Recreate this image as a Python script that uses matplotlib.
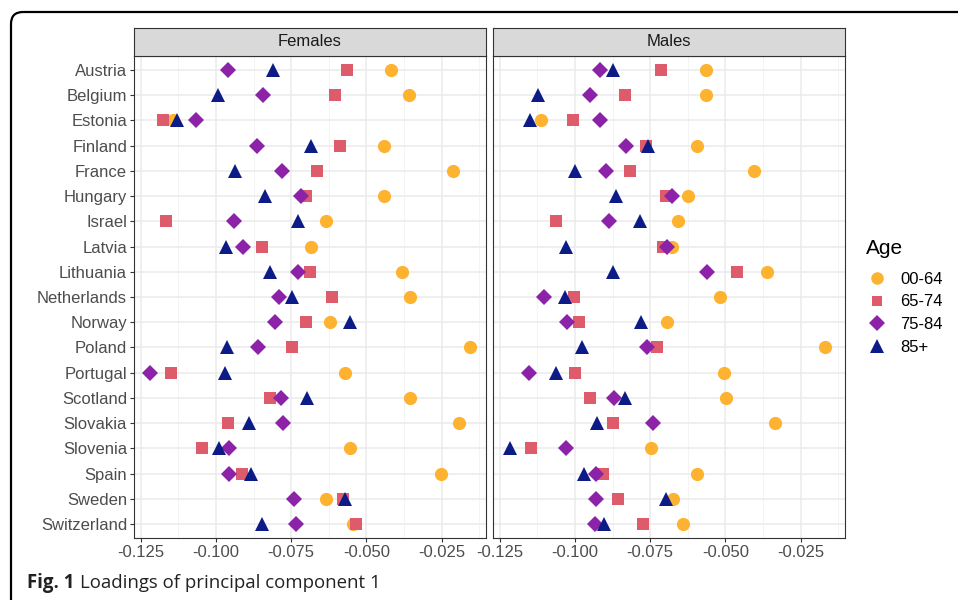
import matplotlib
matplotlib.use("Agg")
import matplotlib.pyplot as plt
from matplotlib.lines import Line2D
from matplotlib.patches import FancyBboxPatch
from matplotlib.transforms import IdentityTransform
import numpy as np

plt.rcParams['font.family'] = ['Liberation Sans', 'DejaVu Sans']

countries = ["Austria", "Belgium", "Estonia", "Finland", "France", "Hungary", "Israel",
             "Latvia", "Lithuania", "Netherlands", "Norway", "Poland", "Portugal",
             "Scotland", "Slovakia", "Slovenia", "Spain", "Sweden", "Switzerland"]
ages = ["00-64", "65-74", "75-84", "85+"]

# Females
f_0064 = [-0.0417, -0.0358, -0.1142, -0.0442, -0.0212, -0.0442, -0.0636, -0.0685, -0.0382, -0.0357,
          -0.0621, -0.0156, -0.0572, -0.0357, -0.0192, -0.0556, -0.0251, -0.0635, -0.0544]
f_6574 = [-0.0566, -0.0606, -0.1175, -0.0589, -0.0665, -0.0700, -0.1167, -0.0847, -0.0686, -0.0613,
          -0.0701, -0.0748, -0.1149, -0.0822, -0.0959, -0.1045, -0.0914, -0.0579, -0.0535]
f_7584 = [-0.0960, -0.0844, -0.1066, -0.0862, -0.0782, -0.0718, -0.0941, -0.0909, -0.0728, -0.0790,
          -0.0804, -0.0860, -0.1219, -0.0783, -0.0777, -0.0958, -0.0957, -0.0740, -0.0733]
f_85 = [-0.0811, -0.0993, -0.1128, -0.0684, -0.0937, -0.0837, -0.0728, -0.0966, -0.0821, -0.0748,
        -0.0553, -0.0963, -0.0971, -0.0698, -0.0889, -0.0990, -0.0882, -0.0570, -0.0848]

# Males
m_0064 = [-0.0564, -0.0564, -0.1111, -0.0596, -0.0405, -0.0623, -0.0658, -0.0679, -0.0361, -0.0517,
          -0.0694, -0.0169, -0.0505, -0.0497, -0.0337, -0.0748, -0.0595, -0.0674, -0.0642]
m_6574 = [-0.0715, -0.0834, -0.1006, -0.0765, -0.0816, -0.0698, -0.1062, -0.0708, -0.0462, -0.1004,
          -0.0988, -0.0729, -0.0999, -0.0951, -0.0872, -0.1145, -0.0907, -0.0858, -0.0773]
m_7584 = [-0.0918, -0.0951, -0.0917, -0.0830, -0.0896, -0.0679, -0.0888, -0.0694, -0.0562, -0.1101,
          -0.1027, -0.0760, -0.1154, -0.0869, -0.0742, -0.1030, -0.0931, -0.0931, -0.0934]
m_85 = [-0.0872, -0.1121, -0.1150, -0.0758, -0.0999, -0.0863, -0.0783, -0.1028, -0.0872, -0.1034,
        -0.0780, -0.0977, -0.1064, -0.0834, -0.0925, -0.1215, -0.0971, -0.0697, -0.0903]

colors = ["#FDB32F", "#DE5B6C", "#8C22A8", "#0D1B87"]
markers = ["o", "s", "D", "^"]
msizes = [9.5, 8.0, 8.5, 10.5]

W, H = 958, 600
fig = plt.figure(figsize=(W / 100, H / 100), dpi=100)

# rounded frame around the figure
frame = FancyBboxPatch((11, -30), 1100, H - 12 + 30, boxstyle="round,pad=0,rounding_size=12",
                       transform=IdentityTransform(), fill=False, edgecolor="black", linewidth=1.6)
fig.patches.append(frame)

ypos = np.arange(len(countries))[::-1]
panels = [("Females", [f_0064, f_6574, f_7584, f_85], 134),
          ("Males", [m_0064, m_6574, m_7584, m_85], 493)]

for title, series, left in panels:
    ax = fig.add_axes([left / W, 62 / H, 352 / W, 482 / H])
    for k, vals in enumerate(series):
        ax.plot(vals, ypos, linestyle="none", marker=markers[k], ms=msizes[k],
                color=colors[k], mec=colors[k], mew=0, zorder=3 + k)
    ax.set_xlim(-0.1272, -0.0103)
    ax.set_ylim(-0.55, len(countries) - 0.45)
    ax.set_xticks([-0.125, -0.1, -0.075, -0.05, -0.025])
    ax.set_xticklabels(["-0.125", "-0.100", "-0.075", "-0.050", "-0.025"])
    ax.set_xticks(np.arange(-0.1125, -0.0, 0.025), minor=True)
    ax.set_yticks(ypos)
    ax.grid(which="major", color="#EBEBEB", linewidth=1.1, zorder=0)
    ax.grid(which="minor", axis="x", color="#F2F2F2", linewidth=0.6, zorder=0)
    ax.set_axisbelow(True)
    ax.tick_params(which="major", length=3, width=0.8, color="#333333", labelsize=12,
                   labelcolor="#4D4D4D", pad=2)
    ax.tick_params(which="minor", length=0)
    if left == 134:
        ax.set_yticklabels(countries)
    else:
        ax.set_yticklabels([])
        ax.tick_params(axis="y", length=0)
    for s in ax.spines.values():
        s.set_color("#333333")
        s.set_linewidth(0.8)

    strip = fig.add_axes([left / W, (H - 56) / H, 352 / W, 28 / H])
    strip.set_facecolor("#D9D9D9")
    strip.set_xticks([])
    strip.set_yticks([])
    for s in strip.spines.values():
        s.set_color("#333333")
        s.set_linewidth(0.8)
    strip.text(0.5, 0.5, title, ha="center", va="center", fontsize=12, color="#1A1A1A",
               transform=strip.transAxes)

# legend
fig.text(866 / W, 1 - 248 / H, "Age", fontsize=15, va="center", ha="left", color="black")
handles = [Line2D([], [], linestyle="none", marker=markers[k], ms=msizes[k] * 0.95,
                  color=colors[k], mew=0) for k in range(4)]
leg = fig.legend(handles, ages, loc="upper left",
                 bbox_to_anchor=(852 / W, 1 - 257 / H), frameon=False, fontsize=12,
                 handlelength=1.2, handletextpad=0.8, labelspacing=0.45)

# caption
renderer = fig.canvas.get_renderer()
t1 = fig.text(27 / W, 1 - 583 / H, "Fig. 1", fontsize=13.4, fontweight="bold", va="center",
              ha="left", family="Open Sans", color="#222222")
bb = t1.get_window_extent(renderer=renderer)
fig.text((bb.x1 + 6) / W, 1 - 583 / H, "Loadings of principal component 1", fontsize=13.4,
         va="center", ha="left", family="Open Sans", color="#222222")

fig.savefig("out.png", dpi=100)
